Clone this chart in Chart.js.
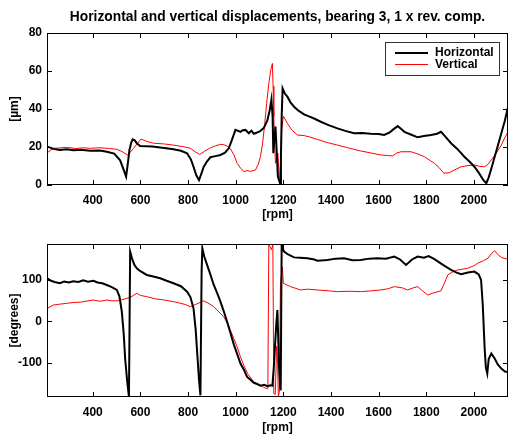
<!DOCTYPE html>
<html>
<head>
<meta charset="utf-8">
<script src="https://cdn.jsdelivr.net/npm/chart.js@4"></script>
<style>
  body { margin: 0; background: #fff; }
  #wrap { position: relative; width: 508px; height: 436px; }
  canvas { position: absolute; left: 0; }
  #ampChart { top: 0; }
  #phaseChart { top: 222px; }
</style>
</head>
<body>
<div id="wrap">
  <canvas id="ampChart" width="508" height="222"></canvas>
  <canvas id="phaseChart" width="508" height="214"></canvas>
</div>
<script>
/*=============== DATA ===============*/

// Tick values
const rpmTicks = [400, 600, 800, 1000, 1200, 1400, 1600, 1800, 2000];
const ampTicks = [0, 20, 40, 60, 80];
const phaseTicks = [-100, 0, 100];

// Amplitude, horizontal [µm]
const ampHorRpm = [209, 235, 262, 290, 320, 350, 389, 430, 459, 490, 515, 530, 540, 548, 554, 562, 568, 576, 585, 599,
  650, 700, 739, 770, 796, 812, 823, 835, 846, 856, 866, 880, 894, 915, 936, 955, 971, 985, 999, 1010,
  1020, 1030, 1041, 1055, 1066, 1076, 1090, 1104, 1118, 1133, 1143, 1150, 1155, 1158, 1163, 1167, 1172, 1177, 1186, 1190,
  1193, 1197, 1207, 1217, 1230, 1245, 1265, 1287, 1310, 1329, 1357, 1390, 1427, 1460, 1497, 1530, 1567, 1600, 1623, 1645,
  1659, 1680, 1695, 1708, 1740, 1764, 1790, 1820, 1845, 1862, 1880, 1904, 1930, 1960, 1980, 2002, 2020, 2040, 2052, 2062,
  2075, 2087, 2100, 2115, 2130, 2143];
const ampHor = [20.2, 19.0, 18.4, 18.8, 18.3, 18.6, 18.0, 18.2, 17.5, 16.5, 13, 8, 4.4, 12, 18.4, 22.5, 24, 23.5, 22, 20.5,
  20.2, 19.5, 18.8, 18.0, 16.7, 13.5, 9.6, 5, 2.6, 6, 9.6, 12.5, 14.6, 15.2, 15.8, 17.0, 19.3, 24, 29, 28.5,
  28, 28.8, 29, 27.2, 28.6, 27.0, 27.6, 28.5, 30, 34, 39.5, 45, 36, 16.7, 25, 30.7, 18, 4.4, 0.9, 15,
  36, 50.9, 48, 46.5, 43.5, 41.2, 39, 37.2, 36, 35, 33.3, 31.5, 29.8, 28.5, 27.2, 27.4, 27.0, 26.8, 26.3, 27.5,
  29, 31, 29.5, 28, 26.3, 25.1, 25.8, 26.3, 27, 28, 25.5, 22, 19, 14.9, 12.5, 9.6, 6.5, 2.5, 0.9, 4,
  9.5, 14.9, 20.5, 27.2, 34, 41];

// Amplitude, vertical [µm]
const ampVerRpm = [209, 234, 260, 290, 330, 360, 389, 431, 470, 501, 525, 546, 560, 571, 585, 603, 625, 655, 700, 739,
  780, 810, 830, 849, 870, 894, 915, 936, 950, 964, 978, 992, 1006, 1020, 1034, 1048, 1062, 1083, 1095, 1104,
  1113, 1122, 1130, 1139, 1148, 1154, 1157, 1160, 1163, 1167, 1172, 1177, 1181, 1184, 1188, 1193, 1200, 1217, 1235, 1259,
  1287, 1310, 1343, 1380, 1427, 1470, 1525, 1570, 1609, 1640, 1659, 1675, 1694, 1736, 1765, 1792, 1815, 1834, 1855, 1873,
  1897, 1920, 1946, 1975, 2002, 2025, 2045, 2060, 2073, 2090, 2115, 2130, 2143];
const ampVer = [17, 19.3, 19.5, 19.8, 19.2, 19.6, 19.3, 19.6, 19.2, 18.8, 17.5, 15.8, 17.5, 19.3, 21.5, 24.2, 23, 22, 21.6, 21,
  20.2, 19.3, 17.5, 16.1, 17.8, 19.6, 20.6, 21.4, 21.2, 20.5, 19, 16, 11.4, 9, 7, 7.6, 7.2, 7.9, 11, 14.9,
  22, 32.5, 43, 53.5, 61, 64, 52, 36, 22, 11.4, 14, 16.7, 8, 1.7, 12, 29, 36.3, 32.5, 29, 26.3,
  26, 25.3, 24, 22.5, 21, 19.6, 17.9, 16.8, 15.8, 15.5, 15.3, 16.8, 17.5, 17.5, 16.3, 14.9, 13, 11.4, 9, 6.2,
  6.5, 8, 9.6, 10.2, 10.5, 9.8, 9.6, 11, 13.2, 16, 21, 25, 28];

// Phase, horizontal [degrees]
const phaseHorRpm = [209, 225, 240, 262, 280, 300, 318, 340, 360, 380, 403, 420, 440, 459, 480, 501, 512, 522, 530, 536,
  544, 552, 557, 565, 575, 585, 600, 627, 650, 683, 710, 739, 770, 796, 810, 823, 832, 840, 846, 852,
  857, 860, 868, 880, 895, 908, 922, 936, 950, 964, 978, 992, 1006, 1020, 1034, 1048, 1062, 1076, 1090, 1104,
  1120, 1133, 1146, 1154, 1160, 1164, 1170, 1175, 1178, 1182, 1186, 1189, 1193, 1197, 1203, 1220, 1245, 1270, 1301, 1330,
  1343, 1385, 1420, 1455, 1490, 1525, 1560, 1595, 1630, 1666, 1690, 1715, 1740, 1764, 1790, 1810, 1834, 1870, 1904, 1925,
  1946, 1975, 2002, 2020, 2030, 2037, 2045, 2050, 2056, 2062, 2073, 2087, 2100, 2115, 2130, 2143];
const phaseHor = [103, 97, 94, 91, 95, 93, 96, 94, 98, 95, 97, 93, 91, 87, 82, 75, 60, 23, -30, -89,
  -140, -181, 167, 150, 135, 127, 120, 111, 108, 103, 97, 91, 84, 71, 58, 31, -20, -89, -140, -177,
  120, 175, 155, 135, 110, 87, 68, 47, 24, -1, -28, -55, -78, -101, -115, -133, -140, -147, -150, -154,
  -152, -155, -153, -154, -110, -69, -10, 27, -30, -109, -150, -165, 187, 175, 167, 160, 153, 152, 151, 148,
  145, 147, 150, 151, 146, 147, 150, 151, 150, 155, 148, 135, 148, 155, 152, 156, 149, 135, 123, 117,
  113, 117, 119, 112, 99, 40, -65, -110, -125, -90, -77, -89, -103, -113, -120, -121];

// Phase, vertical [degrees]
const phaseVerRpm = [209, 234, 260, 290, 318, 350, 380, 403, 430, 460, 480, 501, 520, 543, 560, 573, 585, 600, 627, 660,
  700, 739, 770, 790, 810, 830, 850, 866, 880, 895, 908, 925, 950, 970, 992, 1006, 1020, 1034, 1050, 1076,
  1100, 1118, 1132, 1135, 1139, 1145, 1150, 1156, 1160, 1166, 1172, 1176, 1179, 1183, 1188, 1196, 1200, 1230, 1273, 1300,
  1343, 1390, 1427, 1480, 1525, 1570, 1609, 1640, 1666, 1700, 1722, 1745, 1764, 1790, 1806, 1830, 1862, 1875, 1890, 1910,
  1932, 1955, 1974, 2000, 2016, 2040, 2059, 2075, 2087, 2100, 2115, 2130, 2143];
const phaseVer = [31, 39, 41, 43, 45, 46, 49, 51, 48, 51, 49, 49, 51, 55, 58, 63, 67, 62, 59, 54,
  51, 47, 43, 40, 35, 40, 45, 49, 45, 40, 35, 25, 11, -10, -41, -61, -85, -105, -125, -145,
  -152, -158, -161, -160, 183, 178, 171, 183, -173, -175, -60, -100, -180, -170, 90, 130, 91, 83, 75, 77,
  75, 73, 71, 72, 71, 73, 75, 78, 83, 80, 75, 80, 83, 70, 63, 68, 73, 90, 111, 118,
  123, 125, 127, 133, 139, 145, 151, 163, 169, 160, 153, 150, 149];

const seriesNames = ['Horizontal', 'Vertical'];

/*=============== HELPERS ===============*/

const toPoints = (xs, ys) => xs.map((x, i) => ({ x: x, y: ys[i] }));

Chart.defaults.font.family = "'Liberation Sans', Arial, sans-serif";
Chart.defaults.font.size = 12;
Chart.defaults.font.weight = 'bold';
Chart.defaults.color = '#000';

// Box round the plot with inward ticks on all four sides
const frameTicks = {
    id: 'frameTicks',
    afterDraw(chart) {
        const { ctx, chartArea: a, scales: { x, y } } = chart;
        ctx.save();
        ctx.strokeStyle = '#000';
        ctx.lineWidth = 1;
        ctx.strokeRect(a.left + 0.5, a.top + 0.5, a.right - a.left - 1, a.bottom - a.top - 1);
        ctx.beginPath();
        x.ticks.forEach(t => {
            const px = Math.round(x.getPixelForValue(t.value)) + 0.5;
            ctx.moveTo(px, a.top); ctx.lineTo(px, a.top + 5);
            ctx.moveTo(px, a.bottom); ctx.lineTo(px, a.bottom - 5);
        });
        y.ticks.forEach(t => {
            const py = Math.round(y.getPixelForValue(t.value)) + 0.5;
            ctx.moveTo(a.left, py); ctx.lineTo(a.left + 5, py);
            ctx.moveTo(a.right, py); ctx.lineTo(a.right - 5, py);
        });
        ctx.stroke();
        ctx.restore();
    }
};

// Title centred over the plot area, and the boxed legend
const titleLegend = {
    id: 'titleLegend',
    afterDraw(chart, args, opts) {
        const { ctx, chartArea: a } = chart;
        ctx.save();
        ctx.fillStyle = '#000';
        if (opts.title) {
            ctx.font = "bold 13.8px 'Liberation Sans', Arial, sans-serif";
            ctx.textAlign = 'center';
            ctx.textBaseline = 'middle';
            ctx.fillText(opts.title, (a.left + a.right) / 2, 17);
        }
        if (opts.legend) {
            ctx.font = "bold 12px 'Liberation Sans', Arial, sans-serif";
            const bx = 385, by = 42, bw = 114, bh = 33;
            ctx.fillStyle = '#fff';
            ctx.fillRect(bx, by, bw, bh);
            ctx.strokeStyle = '#333';
            ctx.lineWidth = 1;
            ctx.strokeRect(bx + 0.5, by + 0.5, bw, bh);
            chart.data.datasets.forEach((ds, i) => {
                const ly = by + 11 + i * 11.5;
                ctx.strokeStyle = ds.borderColor;
                ctx.lineWidth = ds.borderWidth;
                ctx.beginPath();
                ctx.moveTo(bx + 10, ly);
                ctx.lineTo(bx + 43, ly);
                ctx.stroke();
                ctx.fillStyle = '#000';
                ctx.textAlign = 'left';
                ctx.textBaseline = 'middle';
                ctx.fillText(ds.label, bx + 50, ly);
            });
        }
        ctx.restore();
    }
};

function makeChart(id, cfg) {
    return new Chart(document.getElementById(id), {
        type: 'line',
        data: {
            datasets: [
                {
                    label: seriesNames[0],
                    data: toPoints(cfg.horRpm, cfg.hor),
                    borderColor: '#000',
                    borderWidth: 2,
                    pointRadius: 0,
                    tension: 0
                },
                {
                    label: seriesNames[1],
                    data: toPoints(cfg.verRpm, cfg.ver),
                    borderColor: '#ff0000',
                    borderWidth: 1,
                    pointRadius: 0,
                    tension: 0
                }
            ]
        },
        options: {
            responsive: false,
            animation: false,
            devicePixelRatio: 1,
            layout: { padding: { top: cfg.padTop, right: 0, bottom: 0, left: 0 } },
            plugins: {
                legend: { display: false },
                tooltip: { enabled: false },
                titleLegend: { title: cfg.title, legend: cfg.legend }
            },
            scales: {
                x: {
                    type: 'linear',
                    min: 208,
                    max: 2143,
                    grid: { display: false, drawTicks: false },
                    border: { display: false },
                    afterBuildTicks: s => { s.ticks = rpmTicks.map(v => ({ value: v })); },
                    afterFit: s => { s.height = cfg.xHeight; },
                    ticks: { padding: 8, callback: v => String(v) },
                    title: { display: true, text: '[rpm]', padding: { top: 0, bottom: cfg.xTitlePad } }
                },
                y: {
                    min: cfg.yMin,
                    max: cfg.yMax,
                    grid: { display: false, drawTicks: false },
                    border: { display: false },
                    afterBuildTicks: s => { s.ticks = cfg.yTicks.map(v => ({ value: v })); },
                    afterFit: s => { s.width = 47; },
                    ticks: { padding: 5, callback: v => String(v) },
                    title: { display: true, text: cfg.yTitle, padding: { top: 7, bottom: 0 } }
                }
            }
        },
        plugins: [frameTicks, titleLegend]
    });
}

makeChart('ampChart', {
    horRpm: ampHorRpm, hor: ampHor, verRpm: ampVerRpm, ver: ampVer,
    yMin: 0, yMax: 80, yTicks: ampTicks, yTitle: '[µm]',
    padTop: 33, xHeight: 37, xTitlePad: 0,
    title: 'Horizontal and vertical displacements, bearing 3, 1 x rev. comp.',
    legend: true
});

makeChart('phaseChart', {
    horRpm: phaseHorRpm, hor: phaseHor, verRpm: phaseVerRpm, ver: phaseVer,
    yMin: -181, yMax: 185, yTicks: phaseTicks, yTitle: '[degrees]',
    padTop: 22, xHeight: 39, xTitlePad: 1,
    title: null, legend: false
});
</script>
</body>
</html>
